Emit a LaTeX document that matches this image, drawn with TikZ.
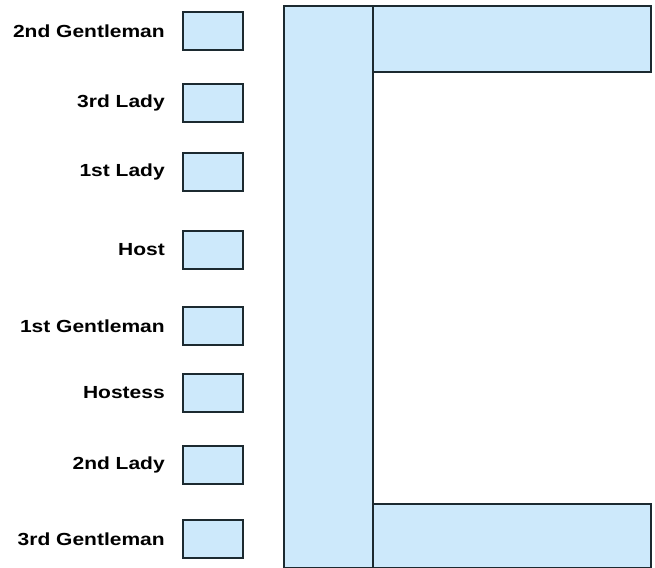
\documentclass[tikz,border=0pt]{standalone}
\usepackage{fontspec}
\setmainfont{Liberation Sans}
\definecolor{boxfill}{HTML}{CDE9FB}
\definecolor{boxline}{HTML}{1C2A30}
\begin{document}
\begin{tikzpicture}[x=1pt,y=-1pt,
  seat/.style={draw=boxline,fill=boxfill,line width=1.8pt,minimum width=60pt,minimum height=38pt,inner sep=0pt},
  slab/.style={draw=boxline,fill=boxfill,line width=1.8pt},
  lbl/.style={anchor=east,font=\bfseries\fontsize{17.5}{17.5}\selectfont,xscale=1.2,inner sep=0pt}]
\useasboundingbox (0,0) rectangle (655,567);
\fill[white] (0,0) rectangle (655,567);
% table
\draw[slab] (284,6) rectangle (373,568);
\draw[slab] (373,6) rectangle (651,72);
\draw[slab] (373,504) rectangle (651,568);
% seats
\foreach \i/\y/\t in {1/31/2nd Gentleman,2/103/3rd Lady,3/172/1st Lady,4/250/Host,5/326/1st Gentleman,6/393/Hostess,7/465/2nd Lady,8/539/3rd Gentleman}{
  \node[seat] (s\i) at (213,\y) {};
  \node[lbl] (l\i) at (165,\y) {\t};
}
\end{tikzpicture}
\end{document}
